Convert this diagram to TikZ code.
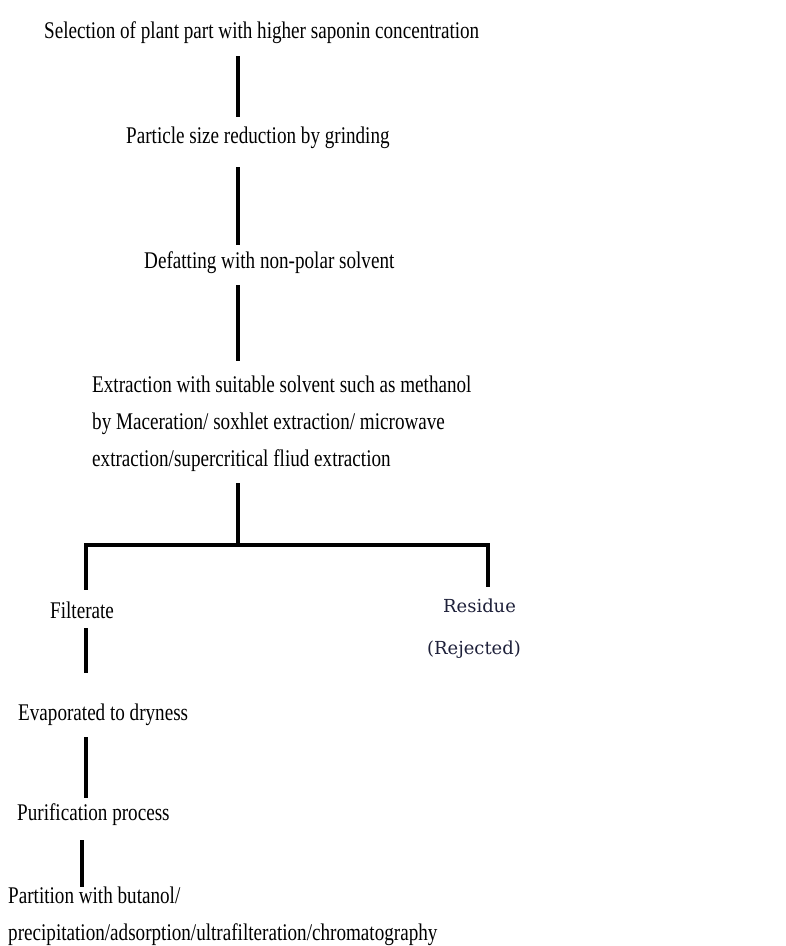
\documentclass[tikz,border=0pt]{standalone}
\usepackage{fontspec}
\setmainfont{Liberation Serif}[FakeStretch=0.8]
\newfontfamily\residuefont{DejaVu Serif}
\usepackage{tikz}
\usetikzlibrary{positioning}
\definecolor{residueink}{RGB}{30,32,58}

\tikzset{
  steptext/.style  = {inner sep=0pt, font=\fontsize{24}{37}\selectfont},
  linetext/.style  = {steptext, text height=17bp, text depth=5bp},
  sidetext/.style  = {inner sep=0pt, text height=14bp, text depth=4bp,
                      text=residueink, font=\residuefont\fontsize{18}{22}\selectfont},
  link/.style      = {line width=4bp, line join=miter}
}

\begin{document}
\begin{tikzpicture}[x=1bp, y=-1bp]
  \useasboundingbox (0,0) rectangle (786,946);

  % main steps
  \node[linetext, anchor=base west] (select) at (44,38)
    {Selection of plant part with higher saponin concentration};
  \node[linetext, anchor=base west] (grind) at (126,143)
    {Particle size reduction by grinding};
  \node[linetext, anchor=base west] (defat) at (144,268)
    {Defatting with non-polar solvent};
  \node[steptext, anchor=north west, align=left] (extract) at (92,375.5)
    {Extraction with suitable solvent such as methanol\\
     by Maceration/ soxhlet extraction/ microwave\\
     extraction/supercritical fliud extraction};

  % branches
  \node[linetext, anchor=base west] (filt) at (50,618) {Filterate};
  \node[sidetext, anchor=base west] (resid) at (443,612) {Residue};
  \node[sidetext, anchor=base west] (reject) at (427,654) {(Rejected)};

  \node[linetext, anchor=base west] (evap) at (18,720) {Evaporated to dryness};
  \node[linetext, anchor=base west] (purify) at (17,820) {Purification process};
  \node[steptext, anchor=north west, align=left] (partit) at (8,886.5)
    {Partition with butanol/\\
     precipitation/adsorption/ultrafilteration/chromatography};

  \coordinate (spine) at (238,545);
  \coordinate (left)  at (86,545);
  \coordinate (right) at (488,545);

  % connectors
  \draw[link, shorten <=13bp, shorten >=9bp]  (spine |- select.south) -- (spine |- grind.north);
  \draw[link, shorten <=19bp, shorten >=6bp]  (spine |- grind.south) -- (spine |- defat.north);
  \draw[link, shorten <=12bp, shorten >=15bp] (spine |- defat.south) -- (spine |- extract.north);
  \draw[link, shorten <=12bp] (spine |- extract.south) -- (spine);
  \draw[link, shorten <=11bp, shorten >=11bp]
    (left |- filt.north) -- (left) -- (right) -- (right |- resid.north);

  \draw[link, shorten <=5bp, shorten >=30bp]  (left |- filt.south) -- (left |- evap.north);
  \draw[link, shorten <=12bp, shorten >=5bp]  (left |- evap.south) -- (left |- purify.north);
  \draw[link, shorten <=15bp]
    ([xshift=-4bp]left |- purify.south) -- ([xshift=-4bp]left |- partit.north);
\end{tikzpicture}
\end{document}
